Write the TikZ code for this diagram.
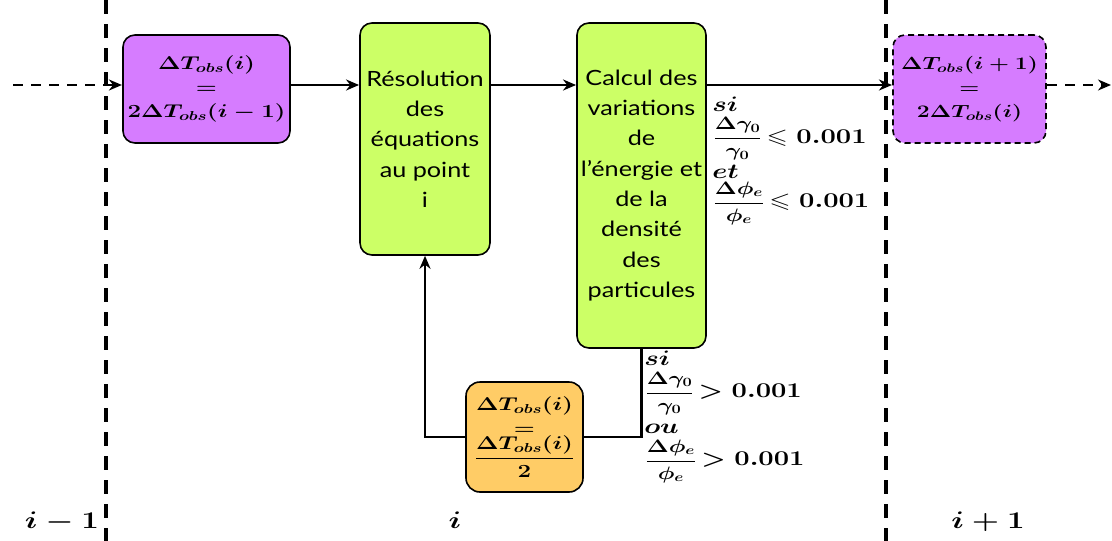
\RequirePackage{fix-cm}
\documentclass[tikz,border=0pt]{standalone}
\usepackage{amsmath,amssymb}
\DeclareFontFamily{U}{msa}{}
\DeclareFontShape{U}{msa}{m}{n}{<-> msam10}{}
\usepackage{fontspec}
\setsansfont{Lato}
\usetikzlibrary{arrows.meta}
\definecolor{purp}{RGB}{214,124,255}
\definecolor{lgreen}{RGB}{204,255,102}
\definecolor{orng}{RGB}{255,204,102}
\newcommand{\fracfont}{\fontsize{18}{22}\selectfont\boldmath}
\tikzset{
  box/.style={draw=black, line width=1.6pt, rounded corners=12pt, align=center, inner sep=0pt},
  mbox/.style={box, xscale=1.3, font=\fontsize{18.5}{24}\selectfont\boldmath},
  sbox/.style={box, xscale=1.2, font=\sffamily\fontsize{21}{30.3}\selectfont},
  arr/.style={line width=2.4pt, -{Stealth[length=13pt,width=11pt]}},
  darr/.style={line width=2.4pt, dash pattern=on 10pt off 8pt, -{Stealth[length=13pt,width=11pt]}},
  conn/.style={line width=2.6pt},
  sep/.style={line width=3.6pt, dash pattern=on 14pt off 10pt},
  lbl/.style={xscale=1.3, font=\fontsize{21}{24}\selectfont\boldmath, inner sep=0pt, anchor=base west},
  bot/.style={xscale=1.3, font=\fontsize{24}{27}\selectfont\boldmath, anchor=base},
}
\begin{document}
\begin{tikzpicture}[x=1pt,y=-1pt]
\useasboundingbox (0,0) rectangle (1112,541);
% separators
\draw[sep] (106,0) -- (106,541);
\draw[sep] (886,0) -- (886,541);
% boxes
\node[mbox, fill=purp, minimum width=128.5pt, minimum height=108pt] (b1) at (206.5,89)
  {$\Delta T_{obs}(i)$\\$=$\\$2\Delta T_{obs}(i-1)$};
\node[sbox, fill=lgreen, minimum width=108.3pt, minimum height=232pt] (b2) at (425,139)
  {Résolution\\des\\équations\\au point\\i};
\node[sbox, fill=lgreen, minimum width=107.5pt, minimum height=325pt] (b3) at (641.5,185.5)
  {Calcul des\\variations\\de\\l'énergie et\\de la\\densité\\des\\particules};
\node[mbox, fill=purp, dash pattern=on 6pt off 4pt, minimum width=117.7pt, minimum height=108pt,
      font=\fontsize{17.6}{24}\selectfont\boldmath] (b4) at (969.5,89)
  {$\Delta T_{obs}(i+1)$\\$=$\\$2\Delta T_{obs}(i)$};
\node[mbox, fill=orng, rounded corners=14pt, minimum width=90pt, minimum height=110pt] (b5) at (524.5,437)
  {$\Delta T_{obs}(i)$\\$=$\\$\dfrac{\Delta T_{obs}(i)}{2}$};
% connectors
\coordinate (start) at (13,85);
\coordinate (end) at (1111,85);
\draw[darr] (start) -- (b1.west |- start);
\draw[arr] (b1.east |- start) -- (b2.west |- start);
\draw[arr] (b2.east |- start) -- (b3.west |- start);
\draw[arr] (b3.east |- start) -- (b4.west |- start);
\draw[darr] (b4.east |- start) -- (end);
\draw[conn] (b3.south) |- (b5.east);
\draw[arr, line width=2.6pt] (b5.west) -| (b2.south);
% condition labels (success)
\node[lbl] (c1a) at (712,111) {$si$};
\node[lbl] (c1b) at (713,143) {{\fracfont$\dfrac{\Delta\gamma_0}{\gamma_0}$}\,$\leqslant 0.001$};
\node[lbl] (c1c) at (712,178) {$et$};
\node[lbl] (c1d) at (713,207.5) {{\fracfont$\dfrac{\Delta\phi_e}{\phi_e}$}\,$\leqslant 0.001$};
% condition labels (loop)
\node[lbl] (c2a) at (644,365) {$si$};
\node[lbl] (c2b) at (645,397.5) {{\fracfont$\dfrac{\Delta\gamma_0}{\gamma_0}$}\,$> 0.001$};
\node[lbl] (c2c) at (644,433) {$ou$};
\node[lbl] (c2d) at (645,465.5) {{\fracfont$\dfrac{\Delta\phi_e}{\phi_e}$}\,$> 0.001$};
% bottom labels
\node[bot] (l1) at (62,528) {$i-1$};
\node[bot] (l2) at (455,528) {$i$};
\node[bot] (l3) at (988,528) {$i+1$};
\end{tikzpicture}
\end{document}
